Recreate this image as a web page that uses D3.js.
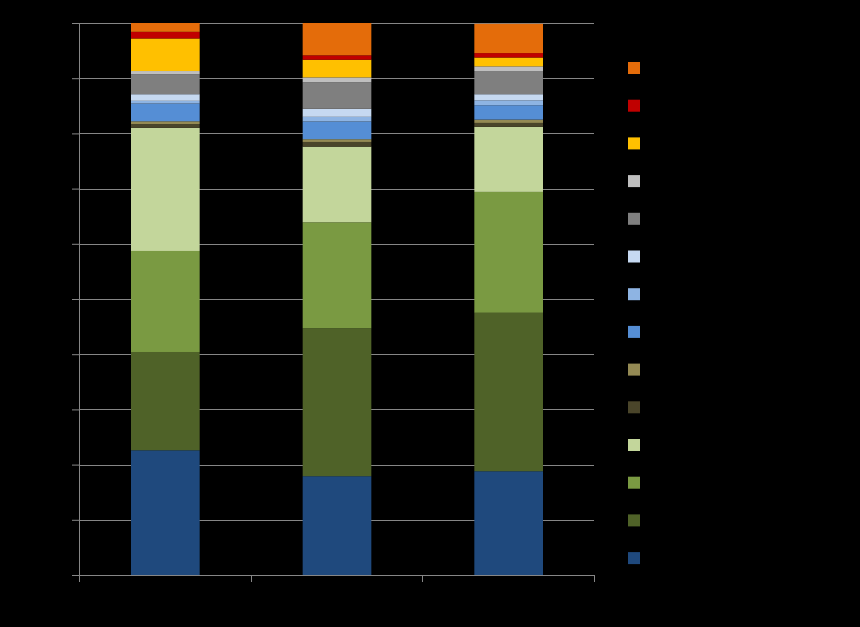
<!DOCTYPE html>
<html>
<head>
<meta charset="utf-8">
<script src="https://cdn.jsdelivr.net/npm/d3@7"></script>
<style>
  body { margin: 0; background: #000; }
  svg { display: block; background: #000; }
</style>
</head>
<body>
<div id="chart"></div>
<script>
var width = 860,
    height = 627;

// three bars, fourteen stacked series (bottom to top), percent shares
var categories = ["A", "B", "C"];
var seriesKeys = ["s1", "s2", "s3", "s4", "s5", "s6", "s7", "s8", "s9", "s10", "s11", "s12", "s13", "s14"];
var seriesColors = ["#1f497d", "#4f6228", "#7a9a42", "#c3d69b", "#4a452a", "#948a54",
                    "#558ed5", "#8eb4e3", "#c6d9f1", "#7f7f7f", "#bfbfbf", "#ffc000", "#c00000", "#e46c0a"];
var valuesA = [22.6, 17.8, 18.3, 22.3, 0.7, 0.5, 3.2, 0.5, 1.2, 3.6, 0.6, 5.9, 1.2, 1.6];
var valuesB = [17.9, 26.8, 19.2, 13.7, 0.85, 0.5, 3.2, 0.85, 1.45, 4.8, 0.9, 3.2, 0.8, 5.85];
var valuesC = [18.8, 28.7, 21.9, 11.8, 0.7, 0.6, 2.6, 0.9, 1.1, 4.2, 0.85, 1.6, 0.8, 5.3];
var yTicks = [0, 10, 20, 30, 40, 50, 60, 70, 80, 90, 100];

var allValues = [valuesA, valuesB, valuesC];
var rows = categories.map(function(c, i) {
  var row = {cat: c};
  seriesKeys.forEach(function(k, j) { row[k] = allValues[i][j]; });
  return row;
});

var margin = {left: 79, top: 23, right: 266, bottom: 52};
var plotW = width - margin.left - margin.right,
    plotH = height - margin.top - margin.bottom;

var svg = d3.select("#chart").append("svg")
    .attr("width", width)
    .attr("height", height);

var g = svg.append("g")
    .attr("transform", "translate(" + margin.left + "," + margin.top + ")");

var x = d3.scaleBand()
    .domain(categories)
    .range([0, plotW])
    .paddingInner(0.6)
    .paddingOuter(0.3);

var y = d3.scaleLinear()
    .domain([0, 100])
    .range([plotH, 0]);

var color = d3.scaleOrdinal().domain(seriesKeys).range(seriesColors);

// gridlines
g.append("g")
    .selectAll("line")
    .data(yTicks.slice(1))
    .enter().append("line")
    .attr("x1", 0)
    .attr("x2", plotW)
    .attr("y1", function(d) { return Math.round(y(d)) + 0.5; })
    .attr("y2", function(d) { return Math.round(y(d)) + 0.5; })
    .attr("stroke", "#868686")
    .attr("stroke-width", 1);

var stack = d3.stack().keys(seriesKeys)(rows);

g.append("g")
    .selectAll("g")
    .data(stack)
    .enter().append("g")
    .attr("fill", function(d) { return color(d.key); })
    .selectAll("rect")
    .data(function(d) { return d; })
    .enter().append("rect")
    .attr("x", function(d) { return x(d.data.cat) + 0.5; })
    .attr("width", x.bandwidth())
    .attr("y", function(d) { return y(d[1]); })
    .attr("height", function(d) { return y(d[0]) - y(d[1]); });

// y axis (labels in black, as in the original)
var yAxis = g.append("g")
    .call(d3.axisLeft(y).tickValues(yTicks).tickSize(7).tickFormat(function(d) { return d + "%"; }));
yAxis.selectAll("path, line").attr("stroke", "#868686");
yAxis.selectAll("text").attr("fill", "#000").style("font-family", "Calibri, Carlito, 'Liberation Sans', sans-serif").style("font-size", "12px");

// x axis with ticks between categories
var xAxis = g.append("g")
    .attr("transform", "translate(0," + plotH + ")");
xAxis.append("line")
    .attr("x1", 0).attr("x2", plotW)
    .attr("y1", 0.5).attr("y2", 0.5)
    .attr("stroke", "#868686");
xAxis.selectAll(".tk")
    .data(d3.range(categories.length + 1))
    .enter().append("line")
    .attr("class", "tk")
    .attr("x1", function(i) { return Math.round(i * plotW / categories.length) + 0.5; })
    .attr("x2", function(i) { return Math.round(i * plotW / categories.length) + 0.5; })
    .attr("y1", 0).attr("y2", 7)
    .attr("stroke", "#868686");

// legend, top entry is the last series
var legend = svg.append("g")
    .attr("transform", "translate(628,62)");
var legendKeys = seriesKeys.slice().reverse();
legend.selectAll("rect")
    .data(legendKeys)
    .enter().append("rect")
    .attr("x", 0)
    .attr("y", function(d, i) { return i * 37.7; })
    .attr("width", 12)
    .attr("height", 12)
    .attr("fill", function(d) { return color(d); });
</script>
</body>
</html>
